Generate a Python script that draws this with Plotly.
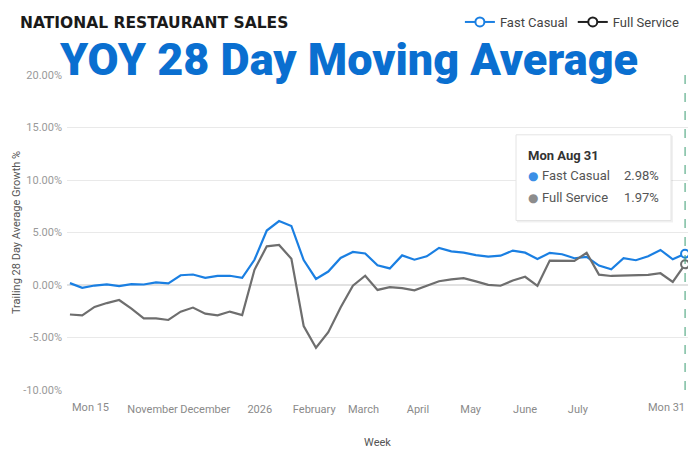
import pandas as pd
import plotly.graph_objects as go

# ---------------- data ----------------
week_start = "2025-09-15"
n_weeks = 51
weeks = pd.date_range(week_start, periods=n_weeks, freq="7D")

fast_casual = [0.18, -0.27, -0.05, 0.06, -0.10, 0.08, 0.05, 0.24, 0.16, 0.93,
               1.00, 0.68, 0.87, 0.88, 0.69, 2.40, 5.19, 6.09, 5.62, 2.37,
               0.58, 1.28, 2.58, 3.15, 3.00, 1.88, 1.58, 2.82, 2.41, 2.73,
               3.54, 3.20, 3.08, 2.85, 2.70, 2.79, 3.28, 3.08, 2.47, 3.06,
               2.93, 2.55, 2.68, 1.85, 1.50, 2.55, 2.36, 2.74, 3.34, 2.45, 2.98]
full_service = [-2.81, -2.89, -2.09, -1.72, -1.43, -2.25, -3.17, -3.17, -3.33, -2.54,
                -2.15, -2.73, -2.89, -2.53, -2.86, 1.45, 3.68, 3.81, 2.50, -3.91,
                -5.98, -4.49, -2.15, -0.06, 0.88, -0.47, -0.20, -0.30, -0.50, -0.08,
                0.36, 0.53, 0.66, 0.34, 0.01, -0.07, 0.43, 0.78, -0.08, 2.32,
                2.32, 2.29, 3.06, 0.99, 0.86, 0.89, 0.92, 0.96, 1.12, 0.29, 1.97]

month_ticks = ["2025-11-01", "2025-12-01", "2026-01-01", "2026-02-01", "2026-03-01",
               "2026-04-01", "2026-05-01", "2026-06-01", "2026-07-01"]
month_labels = ["November", "December", "2026", "February", "March",
                "April", "May", "June", "July"]
y_ticks = [-10, -5, 0, 5, 10, 15, 20]
y_labels = [f"{v:.2f}%" for v in y_ticks]
series_names = ["Fast Casual", "Full Service"]

# ---------------- styling ----------------
W, H = 696, 449
L, R, T, B = 67, 688, 74, 390          # plot area in pixels
BLUE = "#1a7fe2"
GRAY = "#6e6e6e"
TITLE_BLUE = "#0a6fd0"
FONT = "Roboto"

def px_x(px):
    return (px - L) / (R - L)

def px_y(py):
    return (B - py) / (B - T)

x_lo = weeks[0] - pd.Timedelta(hours=40)
x_hi = weeks[-1] + pd.Timedelta(hours=40)
y_lo, y_hi = y_ticks[0], y_ticks[-1]
zero_pos = (0 - y_lo) / (y_hi - y_lo)

fig = go.Figure()
fig.add_trace(go.Scatter(x=weeks, y=fast_casual, mode="lines", name=series_names[0],
                         line=dict(color=BLUE, width=2.2), showlegend=False))
fig.add_trace(go.Scatter(x=weeks, y=full_service, mode="lines", name=series_names[1],
                         line=dict(color=GRAY, width=2.2), showlegend=False))
# hover markers at last point
fig.add_trace(go.Scatter(x=[weeks[-1]], y=[fast_casual[-1]], mode="markers", showlegend=False,
                         marker=dict(size=8, color="white", line=dict(color=BLUE, width=2))))
fig.add_trace(go.Scatter(x=[weeks[-1]], y=[full_service[-1]], mode="markers", showlegend=False,
                         marker=dict(size=8, color="white", line=dict(color=GRAY, width=2))))
# legend entries
for nm, col in zip(series_names, [BLUE, "#1f1f1f"]):
    fig.add_trace(go.Scatter(x=[None], y=[None], mode="lines+markers", name=nm,
                             line=dict(color=col, width=2),
                             marker=dict(size=9, color="white", line=dict(color=col, width=2))))

# ---------------- shapes: crosshair + tooltip ----------------
shapes = [
    dict(type="line", xref="x", yref="paper", x0=weeks[-1], x1=weeks[-1], y0=0, y1=1,
         line=dict(color="#3a9d72", width=1, dash="dash")),
    dict(type="rect", xref="paper", yref="paper",
         x0=px_x(517), x1=px_x(673), y0=px_y(222), y1=px_y(135),
         fillcolor="rgba(0,0,0,0.06)", line=dict(width=0)),
    dict(type="rect", xref="paper", yref="paper",
         x0=px_x(516), x1=px_x(671), y0=px_y(220), y1=px_y(134),
         fillcolor="white", line=dict(color="#e4e4e4", width=1)),
]

tip_date = "Mon " + weeks[-1].strftime("%b %d").replace(" 0", " ")
annotations = [
    dict(text="NATIONAL RESTAURANT SALES", xref="paper", yref="paper",
         x=px_x(18), y=px_y(22), xanchor="left", yanchor="middle", showarrow=False,
         font=dict(family="DejaVu Sans", size=15.5, color="#1a1a1a", weight="bold")),
    dict(text="YOY 28 Day Moving Average", xref="paper", yref="paper",
         x=px_x(348), y=px_y(58), xanchor="center", yanchor="middle", showarrow=False,
         font=dict(family=FONT, size=45, color=TITLE_BLUE, weight=900)),
    # edge x labels
    dict(text="Mon " + str(weeks[0].day), xref="x", yref="paper", x=weeks[0], y=0,
         xanchor="left", yanchor="top", yshift=-9, showarrow=False,
         font=dict(family=FONT, size=11, color="#8a8a8a")),
    dict(text="Mon " + str(weeks[-1].day), xref="x", yref="paper", x=weeks[-1], y=0,
         xanchor="right", yanchor="top", yshift=-9, xshift=2, showarrow=False,
         font=dict(family=FONT, size=11, color="#8a8a8a")),
    # tooltip
    dict(text="<b>" + tip_date + "</b>", xref="paper", yref="paper",
         x=px_x(526), y=px_y(155), xanchor="left", yanchor="middle", showarrow=False,
         font=dict(family=FONT, size=13, color="#333333")),
]
for i, (nm, col, vals) in enumerate(zip(series_names, ["#3b8fe6", "#8c8c8c"],
                                        [fast_casual, full_service])):
    py = 175 + 22 * i
    annotations += [
        dict(text="●", xref="paper", yref="paper", x=px_x(526), y=px_y(py),
             xanchor="left", yanchor="middle", showarrow=False,
             font=dict(family="DejaVu Sans", size=12, color=col)),
        dict(text=nm, xref="paper", yref="paper", x=px_x(540), y=px_y(py),
             xanchor="left", yanchor="middle", showarrow=False,
             font=dict(family=FONT, size=13, color="#555555")),
        dict(text=f"{vals[-1]:.2f}%", xref="paper", yref="paper", x=px_x(661), y=px_y(py),
             xanchor="right", yanchor="middle", showarrow=False,
             font=dict(family=FONT, size=13, color="#555555")),
    ]

fig.update_layout(
    width=W, height=H,
    margin=dict(l=L, r=W - R, t=T, b=H - B),
    paper_bgcolor="white", plot_bgcolor="white",
    font=dict(family=FONT, size=11, color="#777777"),
    showlegend=True,
    legend=dict(orientation="h", x=0.995, xanchor="right", y=px_y(22), yanchor="middle",
                font=dict(family=FONT, size=13, color="#444444"),
                itemwidth=30, tracegroupgap=0, bgcolor="rgba(0,0,0,0)"),
    xaxis=dict(type="date", range=[x_lo, x_hi], tickvals=month_ticks, ticktext=month_labels,
               ticks="outside", ticklen=9, tickcolor="rgba(0,0,0,0)",
               showgrid=False, zeroline=False, showline=False, automargin=False,
               tickfont=dict(family=FONT, size=11, color="#8a8a8a"),
               title=dict(text="Week", standoff=26,
                          font=dict(family=FONT, size=11, color="#555555"))),
    xaxis2=dict(type="date", overlaying="x", matches="x", range=[x_lo, x_hi],
                anchor="free", position=zero_pos, automargin=False,
                tickvals=[weeks[0]] + month_ticks + [weeks[-1]],
                ticks="outside", ticklen=5, tickcolor="#d8d8d8", tickwidth=1,
                showticklabels=False, showgrid=False, zeroline=False, showline=False),
    yaxis=dict(range=[y_lo, y_hi], tickvals=y_ticks, ticktext=y_labels,
               showgrid=True, gridcolor="#e9e9e9", gridwidth=1, automargin=False,
               zeroline=True, zerolinecolor="#e2e2e2", zerolinewidth=1.5,
               showline=False, ticks="", ticklabelstandoff=4,
               tickfont=dict(family=FONT, size=11, color="#9a9a9a"),
               title=dict(text="Trailing 28 Day Average Growth %", standoff=0,
                          font=dict(family=FONT, size=11, color="#555555"))),
    shapes=shapes,
    annotations=annotations,
)

fig.write_html("out.html", config={"displayModeBar": False},
               post_script="document.body.style.margin='0';")
